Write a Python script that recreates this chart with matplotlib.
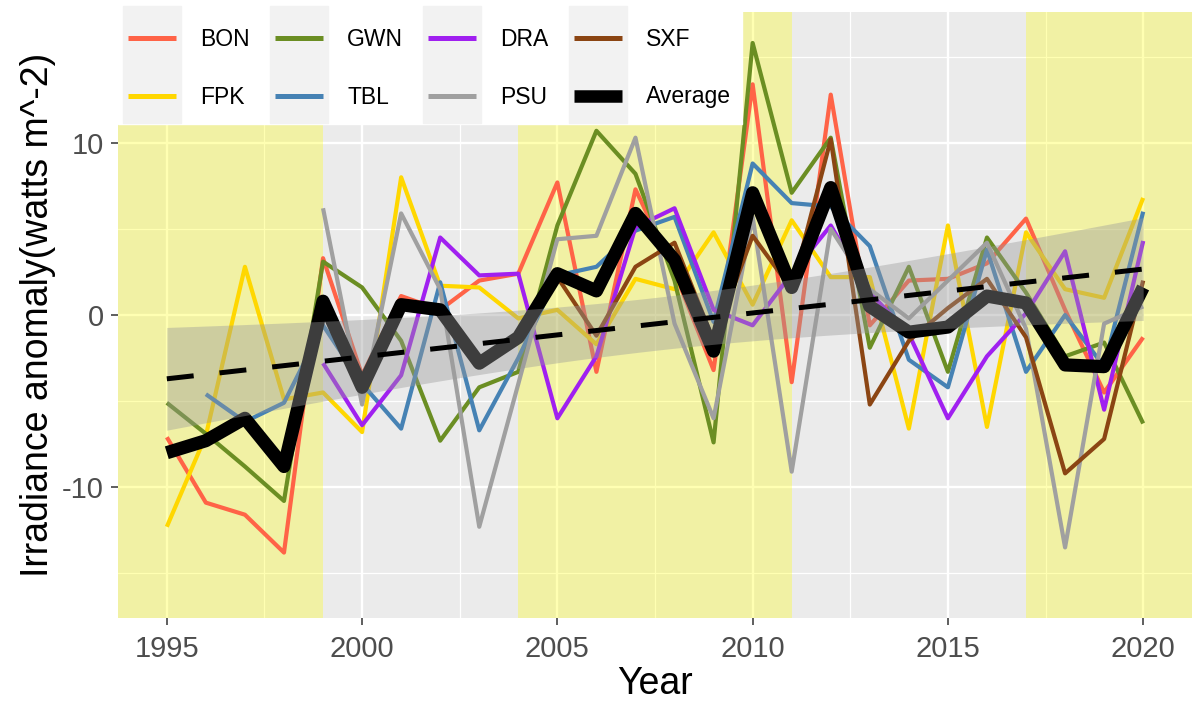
import numpy as np
import matplotlib
matplotlib.use("Agg")
import matplotlib.pyplot as plt
from matplotlib.patches import Rectangle
from matplotlib.lines import Line2D

plt.rcParams['font.family'] = ['Liberation Sans', 'DejaVu Sans']
plt.rcParams['axes.unicode_minus'] = False

years = np.arange(1995, 2021)
nan = np.nan

# station anomalies (watts m^-2)
bon = [-7.1, -10.9, -11.6, -13.8, 3.3, -3.5, 1.1, 0.3, 2.0, 2.4, 7.7, -3.3, 7.3,
       2.5, -3.2, 13.4, -3.9, 12.8, -0.6, 2.0, 2.1, 3.0, 5.6, 0.3, -4.5, -1.3]
fpk = [-12.3, -7.0, 2.8, -4.9, -4.5, -6.8, 8.0, 1.7, 1.6, -0.2, 0.3, -1.7, 2.1,
       1.5, 4.8, 0.6, 5.5, 2.2, 2.2, -6.6, 5.2, -6.5, 4.8, 1.5, 1.0, 6.8]
gwn = [-5.1, -6.9, -8.8, -10.8, 3.1, 1.6, -1.5, -7.3, -4.2, -3.3, 5.2, 10.7, 8.2,
       2.0, -7.4, 15.8, 7.1, 10.3, -1.9, 2.8, -3.3, 4.5, 1.3, -2.4, -1.6, -6.3]
tbl = [nan, -4.6, -6.2, -5.1, -0.6, -4.0, -6.6, 1.9, -6.7, -2.5, 2.3, 2.8, 4.9,
       5.7, -0.4, 8.8, 6.5, 6.3, 4.0, -2.6, -4.2, 3.8, -3.3, 0.0, -3.0, 6.0]
dra = [nan, nan, nan, nan, -2.8, -6.4, -3.5, 4.5, 2.3, 2.4, -6.0, -2.4, 5.1,
       6.2, 0.3, -0.6, 2.4, 5.2, 1.3, -1.1, -6.0, -2.4, 0.1, 3.7, -5.5, 4.3]
psu = [nan, nan, nan, nan, 6.2, -5.2, 5.9, 1.5, -12.3, -4.0, 4.4, 4.6, 10.3,
       -0.5, -6.0, 5.7, -9.1, 5.0, 1.5, -0.2, 2.0, 4.2, -0.8, -13.5, -0.5, 0.5]
sxf = [nan, nan, nan, nan, nan, nan, nan, nan, nan, nan, 2.2, -1.2, 2.8,
       4.2, -1.5, 4.6, 1.5, 10.2, -5.2, -1.5, 0.4, 2.1, -1.3, -9.2, -7.2, 2.0]
average = [-8.0, -7.3, -6.0, -8.8, 0.8, -4.2, 0.6, 0.3, -2.8, -1.3, 2.4, 1.4, 5.9,
           3.2, -2.1, 7.1, 1.6, 7.4, 0.5, -1.0, -0.7, 1.1, 0.7, -2.9, -3.0, 1.6]

stations = ['BON', 'FPK', 'GWN', 'TBL', 'DRA', 'PSU', 'SXF']
series = [bon, fpk, gwn, tbl, dra, psu, sxf]
colors = ['#FF6347', '#FFD700', '#6B8E23', '#4682B4', '#A020F0', '#A0A0A0', '#8B4513']

# shaded periods (None = panel edge)
shade_start = [None, 2004, 2017]
shade_end = [1999, 2011, None]

W, H = 1194, 704
fig = plt.figure(figsize=(W / 100, H / 100), dpi=100)
pl, pr, pt, pb = 118, 1192, 12, 618
ax = fig.add_axes([pl / W, 1 - pb / H, (pr - pl) / W, (pb - pt) / H])
ax.set_facecolor('#EBEBEB')
for s in ax.spines.values():
    s.set_visible(False)

ax.set_xlim(1993.75, 2021.25)
ax.set_ylim(-17.6, 17.6)
ax.set_xticks([1995, 2000, 2005, 2010, 2015, 2020])
ax.set_xticks(np.arange(1997.5, 2021, 5), minor=True)
ax.set_yticks([-10, 0, 10])
ax.set_yticks([-15, -5, 5, 15], minor=True)
ax.set_axisbelow(True)
ax.grid(which='major', color='white', lw=1.7)
ax.grid(which='minor', color='white', lw=0.9)
ax.tick_params(which='major', labelsize=21, labelcolor='#4D4D4D', color='#333333',
               length=5, width=1.1)
ax.tick_params(axis='x', pad=7)
ax.tick_params(axis='y', pad=5)
ax.tick_params(which='minor', length=0)

x0, x1 = ax.get_xlim()
for a, b in zip(shade_start, shade_end):
    ax.axvspan(x0 if a is None else a, x1 if b is None else b,
               color='yellow', alpha=0.3, lw=0, zorder=1)

for vals, c in zip(series, colors):
    ax.plot(years, vals, color=c, lw=3.0, solid_capstyle='butt', zorder=2)
ax.plot(years, average, color='black', lw=9.5, solid_capstyle='butt', zorder=3)

# linear fit with 95% confidence band (like geom_smooth(method='lm'))
avg = np.array(average)
k, b0 = np.polyfit(years, avg, 1)
resid = avg - (k * years + b0)
n = len(years)
s_err = np.sqrt(np.sum(resid ** 2) / (n - 2))
xs = np.linspace(years[0], years[-1], 80)
se = s_err * np.sqrt(1 / n + (xs - years.mean()) ** 2 / np.sum((years - years.mean()) ** 2))
tval = 2.064
fit = k * xs + b0
ax.fill_between(xs, fit - tval * se, fit + tval * se, color='#999999', alpha=0.4,
                lw=0, zorder=4)
ax.plot(xs, fit, color='black', lw=3.6, ls=(0, (5.4, 5.2)), zorder=5)

fig.text(38 / W, 1 - (pt + pb) / 2 / H, 'Irradiance anomaly(watts m^-2)', rotation=90,
         ha='center', va='center', fontsize=27)
fig.text((pl + pr) / 2 / W, 2 / H, 'Year', ha='center', va='bottom', fontsize=27)

# legend, ggplot style with grey key boxes
def fx(x):
    return x / W

def fy(y):
    return 1 - y / H

leg_names = ['BON', 'FPK', 'GWN', 'TBL', 'DRA', 'PSU', 'SXF', 'Average']
leg_colors = colors[:2] + colors[2:4] + colors[4:6] + [colors[6], 'black']
leg_lw = [3.6] * 7 + [9]
col_x = [123, 270, 423, 569]
row_y = [38, 96]
lx0, lx1, ly0, ly1 = 118, 742, 5, 124
fig.add_artist(Rectangle((fx(lx0), fy(ly1)), fx(lx1 - lx0), (ly1 - ly0) / H,
                         transform=fig.transFigure, color='white', zorder=10))
for cx in col_x:
    fig.add_artist(Rectangle((fx(cx), fy(ly1 - 1)), fx(58), (ly1 - ly0 - 2) / H,
                             transform=fig.transFigure, color='#F2F2F2', zorder=11))
for i, (name, c, lw) in enumerate(zip(leg_names, leg_colors, leg_lw)):
    cx = col_x[i // 2]
    ry = row_y[i % 2]
    fig.add_artist(Line2D([fx(cx + 5), fx(cx + 53)], [fy(ry), fy(ry)],
                          transform=fig.transFigure, color=c, lw=lw,
                          solid_capstyle='butt', zorder=12))
    fig.text(fx(cx + 77), fy(ry + 1), name, ha='left', va='center', fontsize=16.5,
             zorder=13)

fig.savefig('out.png', dpi=100)
